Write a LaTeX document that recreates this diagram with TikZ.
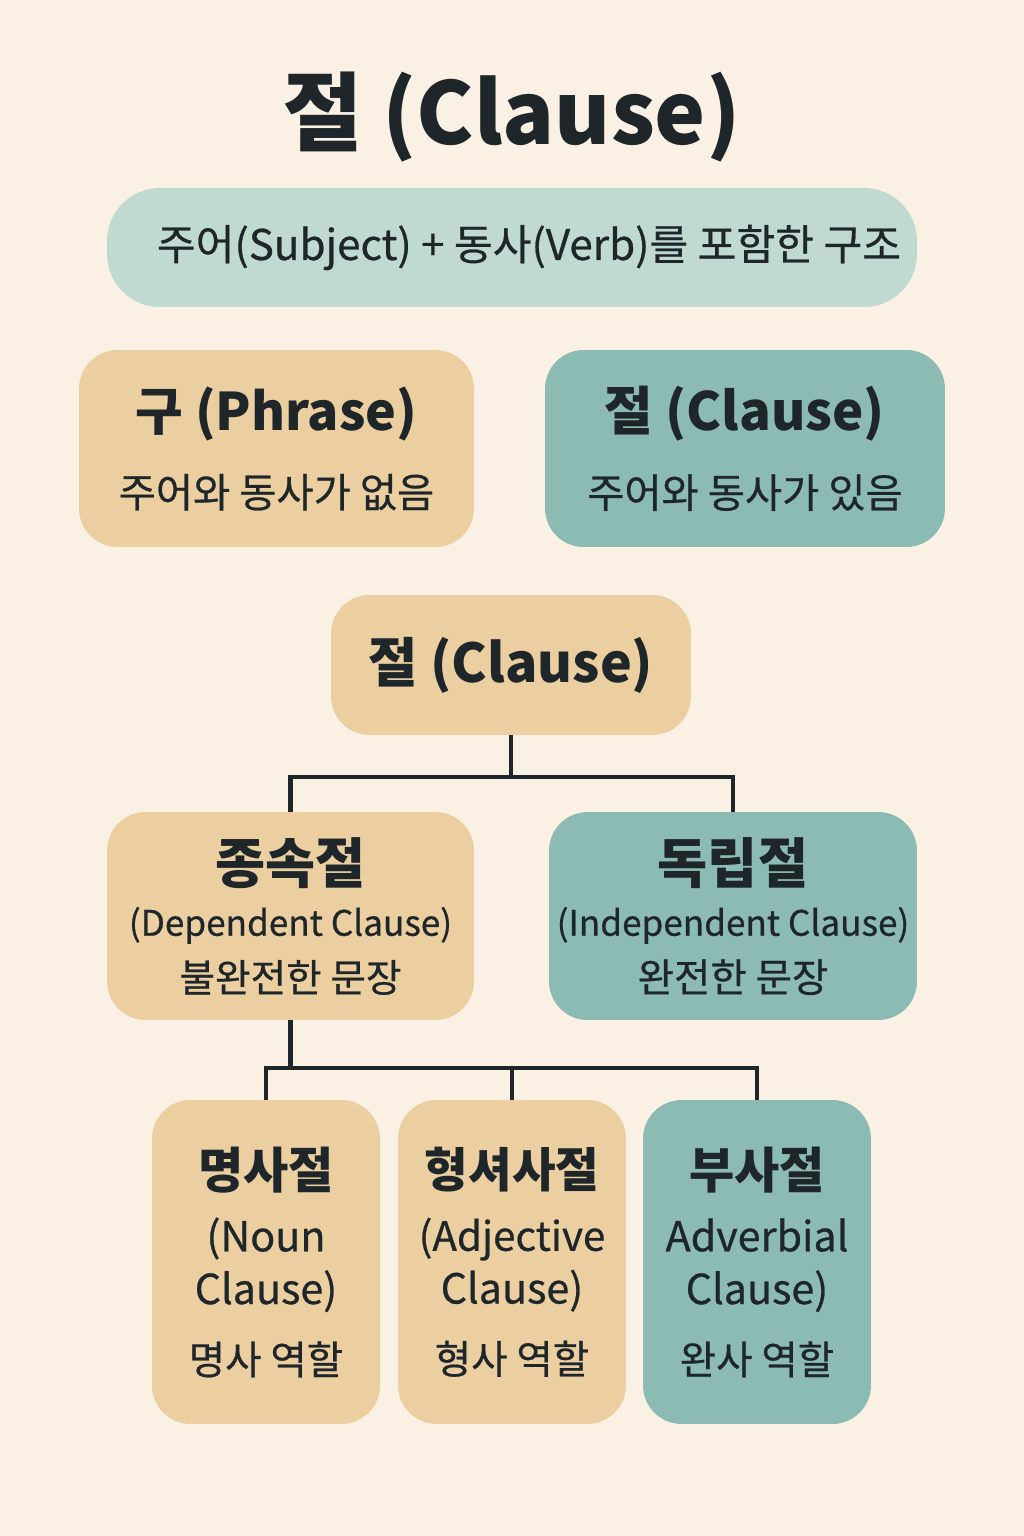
\documentclass[tikz,border=0pt]{standalone}
\usepackage{fontspec}
\setmainfont{Noto Sans CJK KR}
\newfontfamily\moyen[FakeBold=0.6]{Noto Sans CJK KR}
\usepackage{xcolor}
\usepackage{tikz}
\definecolor{creme}{RGB}{250,240,227}
\definecolor{sable}{RGB}{235,207,160}
\definecolor{sarcelle}{RGB}{140,187,180}
\definecolor{sarcellec}{RGB}{192,218,210}
\definecolor{encre}{RGB}{30,38,42}
\newcommand{\taille}[1]{\fontsize{#1}{30}\selectfont}

\begin{document}
\begin{tikzpicture}[x=0.02cm, y=-0.02cm,
  bl/.style 2 args={rectangle, rounded corners=22pt, fill=#1, text=encre,
                    minimum width=#2, align=center, inner sep=0pt, font=\taille{22}},
  lien/.style={draw=encre, line width=2.3pt}]

% ── fond ──
\fill[creme] (0,0) rectangle (1024,1536);

% ── titre et définition ──
\node[text=encre, font=\bfseries\taille{49}] (titre) at (512,117) {절 (Clause)};
\node[bl={sarcellec}{16.2cm}, minimum height=2.38cm, rounded corners=30pt] (def) at (512,247.5)
  {\moyen\taille{24}\hspace*{0.68cm}주어(Subject) + 동사(Verb)를 포함한 구조};

% ── 구 / 절 ──
\node[bl={sable}{7.9cm}, minimum height=3.94cm] (phrase) at (276.5,448.5)
  {{\bfseries\taille{29.5}구 (Phrase)}\\[14pt]
   {\moyen\taille{23}주어와 동사가 없음}};
\node[bl={sarcelle}{8cm}, minimum height=3.94cm] (clause) at (745,448.5)
  {{\bfseries\taille{30}절 (Clause)}\\[14pt]
   {\moyen\taille{23}주어와 동사가 있음}};

% ── arbre ──
\node[bl={sable}{7.2cm}, minimum height=2.8cm] (mid) at (511,665)
  {\bfseries\taille{30.5}절 (Clause)};

\node[bl={sable}{7.34cm}, minimum height=4.16cm] (dep) at (290.5,916)
  {{\bfseries\taille{31}종속절}\\[0pt]
   {\moyen\taille{20}(Dependent Clause)}\\[2pt]
   {\moyen\taille{22}불완전한 문장}};
\node[bl={sarcelle}{7.36cm}, minimum height=4.16cm] (indep) at (733,916)
  {{\bfseries\taille{31}독립절}\\[0pt]
   {\moyen\taille{20}(Independent Clause)}\\[2pt]
   {\moyen\taille{22.5}완전한 문장}};

\node[bl={sable}{4.56cm}, minimum height=6.48cm] (noun) at (266,1262)
  {{\bfseries\taille{28}명사절}\\[6pt]
   {\moyen\taille{23.5}(Noun}\\
   {\moyen\taille{23.5}Clause)}\\[10pt]
   {\moyen\taille{22.5}명사 역할}};
\node[bl={sable}{4.56cm}, minimum height=6.48cm] (adj) at (512,1262)
  {{\bfseries\taille{27}형셔사절}\\[6pt]
   {\moyen\taille{23}(Adjective}\\
   {\moyen\taille{23.5}Clause)}\\[10pt]
   {\moyen\taille{22.5}형사 역할}};
\node[bl={sarcelle}{4.56cm}, minimum height=6.48cm] (adv) at (757,1262)
  {{\bfseries\taille{28}부사절}\\[6pt]
   {\moyen\taille{23.5}Adverbial}\\
   {\moyen\taille{23.5}Clause)}\\[10pt]
   {\moyen\taille{22.5}완사 역할}};

% ── liens ──
\coordinate (j1) at (511,777);
\draw[lien] (mid.south) -- (j1);
\draw[lien] (j1) -| (dep.north);
\draw[lien] (j1) -| (indep.north);

\coordinate (j2) at (290.5,1068);
\draw[lien] (dep.south) -- (j2);
\draw[lien] (j2) -| (noun.north);
\draw[lien] (j2) -| (adj.north);
\draw[lien] (j2) -| (adv.north);

\end{tikzpicture}
\end{document}
